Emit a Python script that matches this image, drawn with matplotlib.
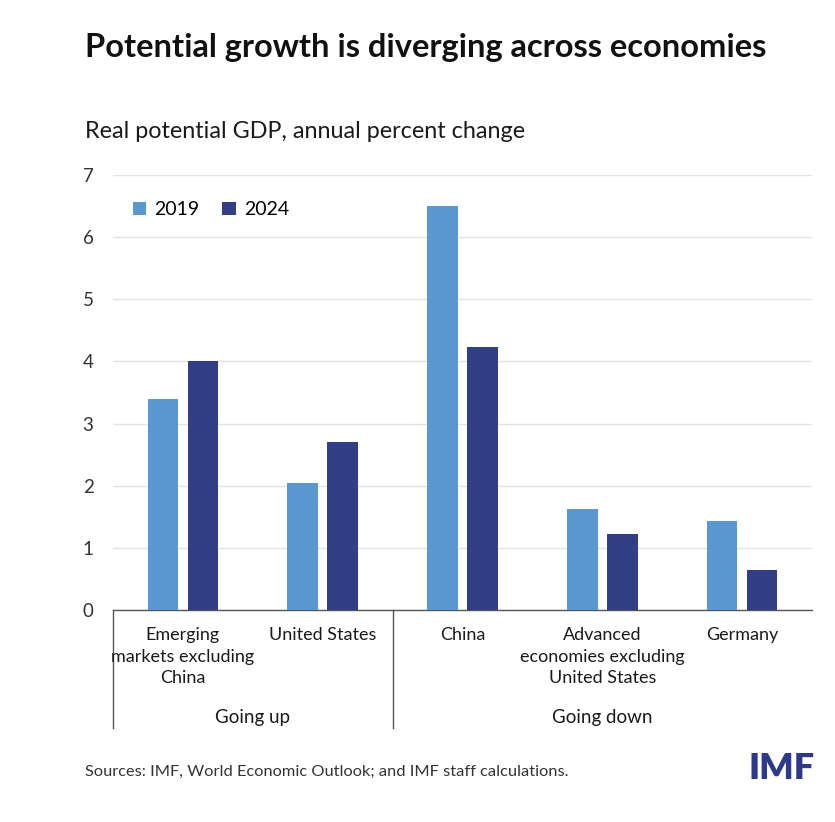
import matplotlib
matplotlib.use('Agg')
import matplotlib.pyplot as plt
import numpy as np

# data
categories = ['Emerging\nmarkets excluding\nChina', 'United States', 'China',
              'Advanced\neconomies excluding\nUnited States', 'Germany']
groups = ['Going up', 'Going down']
group_sizes = [2, 3]
vals_2019 = [3.4, 2.05, 6.5, 1.63, 1.43]
vals_2024 = [4.0, 2.7, 4.24, 1.22, 0.64]
yticks = [0, 1, 2, 3, 4, 5, 6, 7]

light = '#5b98cf'
dark = '#333f85'
txt = '#1a1a1a'

plt.rcParams['font.family'] = ['Lato', 'DejaVu Sans']

W, H = 835, 822
fig = plt.figure(figsize=(W / 100, H / 100), dpi=100)
ax = fig.add_axes([113 / W, 1 - 610 / H, (812 - 113) / W, (610 - 175) / H])

x = np.arange(len(categories))
bw = 0.22
off = 0.143
ax.bar(x - off, vals_2019, bw, color=light, label='2019', zorder=3)
ax.bar(x + off, vals_2024, bw, color=dark, label='2024', zorder=3)

ax.set_xlim(-0.5, len(categories) - 0.5)
ax.set_ylim(0, 7)
ax.set_yticks(yticks)
ax.set_yticklabels([str(t) for t in yticks], fontsize=13.5, color='#333333')
ax.tick_params(axis='y', length=0, pad=14)
ax.tick_params(axis='x', length=0)
ax.set_xticks([])
ax.grid(axis='y', color='#e3e3e3', linewidth=1, zorder=0)
for s in ['top', 'right', 'left']:
    ax.spines[s].set_visible(False)
ax.spines['bottom'].set_color('#555555')
ax.spines['bottom'].set_linewidth(1)

# category labels
for i, c in enumerate(categories):
    ax.text(i, -0.04, c, transform=ax.get_xaxis_transform(), ha='center', va='top',
            fontsize=13, color=txt, linespacing=1.42)

# group separators and labels
start = -0.5
for g, n in zip(groups, group_sizes):
    ax.plot([start, start], [0, -0.271], transform=ax.get_xaxis_transform(),
            color='#555555', linewidth=1, clip_on=False)
    ax.text(start + n / 2, -0.246, g, transform=ax.get_xaxis_transform(),
            ha='center', va='center', fontsize=13.5, color=txt)
    start += n

leg = ax.legend(loc='upper left', bbox_to_anchor=(0.003, 0.98), ncol=2, frameon=False,
                fontsize=14, handlelength=0.7, handleheight=0.7, columnspacing=1.2,
                handletextpad=0.4)

fig.text(85 / W, 1 - 47 / H, 'Potential growth is diverging across economies',
         fontsize=23.5, fontweight='bold', color='#111111', va='center', ha='left')
fig.text(85 / W, 1 - 132 / H, 'Real potential GDP, annual percent change',
         fontsize=16.8, color=txt, va='center', ha='left')
fig.text(85 / W, 1 - 772 / H, 'Sources: IMF, World Economic Outlook; and IMF staff calculations.',
         fontsize=11.8, color='#333333', va='center', ha='left')
fig.text(815 / W, 1 - 768 / H, 'IMF', fontsize=26, fontweight='heavy', color='#2e3a87',
         va='center', ha='right')

fig.savefig('out.png', dpi=100)
